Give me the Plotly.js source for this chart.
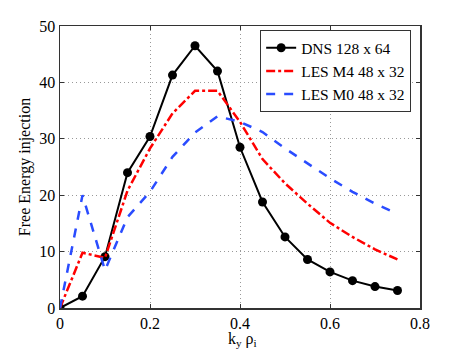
<!DOCTYPE html>
<html>
<head>
<script src="https://cdn.plot.ly/plotly-3.0.1.min.js"></script>
<style>
  html, body { margin: 0; padding: 0; background: #fff; }
  #plot { width: 463px; height: 349px; }
</style>
</head>
<body>
<div id="plot"></div>
<script>
var ky = [0, 0.05, 0.1, 0.15, 0.2, 0.25, 0.3, 0.35, 0.4, 0.45, 0.5, 0.55, 0.6, 0.65, 0.7, 0.75];
var dns = [0, 2.1, 9.1, 24.0, 30.4, 41.3, 46.5, 42.0, 28.5, 18.8, 12.6, 8.6, 6.4, 4.85, 3.8, 3.1];
var lesM4 = [0, 9.8, 8.9, 20.8, 28.3, 34.5, 38.5, 38.5, 33.0, 26.4, 22.1, 18.5, 15.1, 12.6, 10.4, 8.6];
var lesM0 = [0, 20.0, 6.7, 16.1, 20.6, 26.8, 31.1, 34.0, 33.0, 31.2, 28.3, 25.6, 23.0, 20.6, 18.5, 16.7];

var serif = 'Times New Roman, Liberation Serif, DejaVu Serif, serif';

var trace1 = {
  x: ky,
  y: dns,
  mode: 'lines+markers',
  name: 'DNS 128 x 64',
  line: { color: 'black', width: 2 },
  marker: { color: 'black', size: 9 }
};

var trace2 = {
  x: ky,
  y: lesM4,
  mode: 'lines',
  name: 'LES M4 48 x 32',
  line: { color: '#ff0000', width: 2.5, dash: 'dashdot' }
};

var trace3 = {
  x: ky,
  y: lesM0,
  mode: 'lines',
  name: 'LES M0 48 x 32',
  line: { color: '#2a4cff', width: 2.5, dash: 'dash' }
};

var layout = {
  width: 463,
  height: 349,
  margin: { l: 60, r: 43, t: 26, b: 41 },
  paper_bgcolor: 'white',
  plot_bgcolor: 'white',
  font: { family: serif, size: 16, color: 'black' },
  showlegend: true,
  legend: {
    x: 0.556, y: 0.985, xanchor: 'left', yanchor: 'top',
    bgcolor: 'white', bordercolor: '#333', borderwidth: 1,
    font: { family: serif, size: 15.5, color: 'black' },
    tracegroupgap: 0
  },
  // x title as an annotation so it can sit just under the tick labels
  annotations: [{
    text: 'k<sub>y</sub> ρ<sub>i</sub>',
    xref: 'paper', yref: 'paper', x: 0.508, y: -0.072,
    xanchor: 'center', yanchor: 'top', showarrow: false,
    font: { family: serif, size: 16, color: 'black' }
  }],
  xaxis: {
    range: [0, 0.8],
    tickvals: [0, 0.2, 0.4, 0.6, 0.8],
    ticktext: ['0', '0.2', '0.4', '0.6', '0.8'],
    showgrid: true, gridcolor: '#999', griddash: '1px,3px', gridwidth: 1,
    zeroline: false,
    showline: true, linecolor: '#333', linewidth: 1.5, mirror: 'ticks',
    ticks: 'inside', ticklen: 4, tickcolor: '#333',
    tickfont: { family: serif, size: 16 }
  },
  yaxis: {
    range: [0, 50],
    tickvals: [0, 10, 20, 30, 40, 50],
    showgrid: true, gridcolor: '#999', griddash: '1px,3px', gridwidth: 1,
    zeroline: false,
    showline: true, linecolor: '#333', linewidth: 1.5, mirror: 'ticks',
    ticks: 'inside', ticklen: 4, tickcolor: '#333',
    tickfont: { family: serif, size: 16 },
    title: { text: 'Free Energy injection', font: { family: serif, size: 16 }, standoff: 4 }
  }
};

Plotly.newPlot('plot', [trace1, trace2, trace3], layout, { displayModeBar: false, staticPlot: true });
</script>
</body>
</html>
